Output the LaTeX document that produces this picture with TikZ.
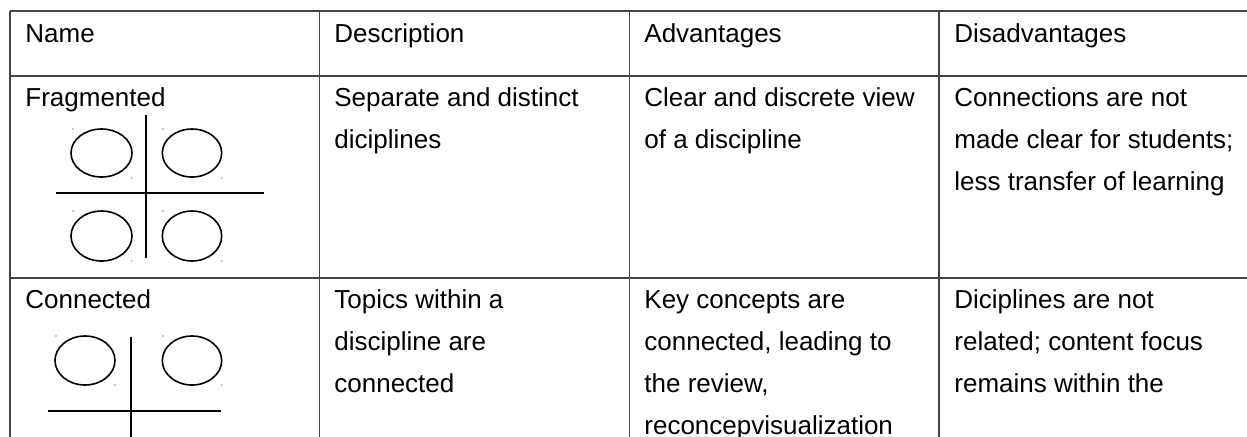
\documentclass[tikz,border=0pt]{standalone}
\usepackage{fontspec}
\setmainfont{Liberation Sans}
\usepackage{tikz}
\usetikzlibrary{calc}
\definecolor{mygray1}{RGB}{68, 68, 68}
\definecolor{mygray2}{RGB}{150, 150, 150}
\newcommand{\cellrows}[1]{\begin{tabular}[t]{@{}l@{}}#1\end{tabular}}
\tikzset{cell/.style={anchor = base west, inner sep = 0pt, font = \fontsize{13}{21}\selectfont}}
\tikzset{rule/.style={color = mygray1, line width = 0.6pt}}
\tikzset{cross/.style={color = black, line width = 1pt}}
\tikzset{blob/.style={color = black, line width = 0.8pt}}

\begin{document}
\begin{tikzpicture}[x = 0.5pt, y = -0.5pt]
\useasboundingbox (0, 0) rectangle (1247, 436);
% table rules
\draw[rule] (10, 11) -- (1250, 11);
\draw[rule] (10, 76) -- (1250, 76);
\draw[rule] (10, 278) -- (1250, 278);
\draw[rule] (10, 11) -- (10, 440);
\draw[rule] (319.5, 11) -- (319.5, 440);
\draw[rule] (629.5, 11) -- (629.5, 440);
\draw[rule] (939, 11) -- (939, 440);
% header
\node[cell] (hname) at (25, 42) {Name};
\node[cell] (hdesc) at (334, 42) {Description};
\node[cell] (hadv) at (644, 42) {Advantages};
\node[cell] (hdis) at (954, 42) {Disadvantages};
% fragmented
\node[cell] (fname) at (25, 106) {Fragmented};
\node[cell] (fdesc) at (334, 106) {\cellrows{Separate and distinct\\diciplines}};
\node[cell] (fadv) at (644, 106) {\cellrows{Clear and discrete view\\of a discipline}};
\node[cell] (fdis) at (954, 106) {\cellrows{Connections are not\\made clear for students;\\less transfer of learning}};
\draw[cross] (145.7, 115) -- (145.7, 258);
\draw[cross] (55.7, 192.7) -- (264.3, 192.7);
\draw[blob] (101.5, 153) ellipse (30.5 and 24);
\draw[blob] (192, 153) ellipse (29.7 and 24);
\draw[blob] (101.5, 236) ellipse (30.5 and 25);
\draw[blob] (192, 236) ellipse (29.7 and 25);
\fill[mygray2] (73, 129) circle (0.8);
\fill[mygray2] (131.7, 178) circle (0.8);
\fill[mygray2] (163, 129) circle (0.8);
\fill[mygray2] (221.7, 178) circle (0.8);
\fill[mygray2] (73, 211) circle (0.8);
\fill[mygray2] (131.7, 261) circle (0.8);
\fill[mygray2] (163, 211) circle (0.8);
\fill[mygray2] (221.7, 261) circle (0.8);
% connected
\node[cell] (cname) at (25, 308) {Connected};
\node[cell] (cdesc) at (334, 308) {\cellrows{Topics within a\\discipline are\\connected}};
\node[cell] (cadv) at (644, 308) {\cellrows{Key concepts are\\connected, leading to\\the review,\\reconcepvisualization}};
\node[cell] (cdis) at (954, 308) {\cellrows{Diciplines are not\\related; content focus\\remains within the}};
\draw[cross] (130.7, 336.7) -- (130.7, 440);
\draw[cross] (47.7, 411) -- (221, 411);
\draw[blob] (85, 360.5) ellipse (30 and 24.5);
\draw[blob] (192, 360.5) ellipse (29.7 and 24.5);
\fill[mygray2] (56, 336) circle (0.8);
\fill[mygray2] (115, 385) circle (0.8);
\fill[mygray2] (163, 336) circle (0.8);
\fill[mygray2] (221.7, 385) circle (0.8);
\end{tikzpicture}
\end{document}
